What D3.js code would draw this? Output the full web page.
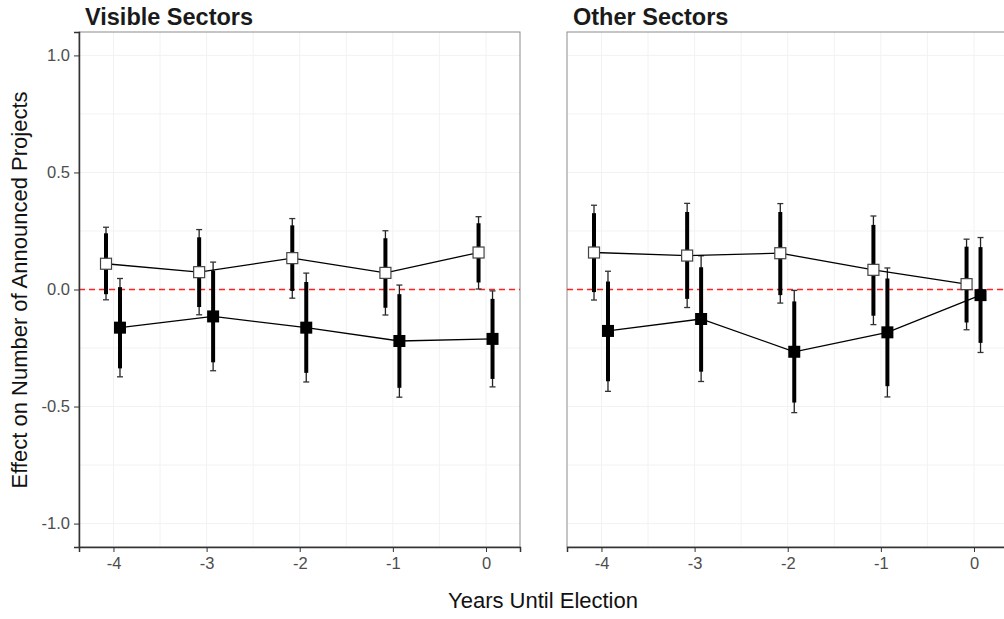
<!DOCTYPE html>
<html>
<head>
<meta charset="utf-8">
<script src="https://cdn.jsdelivr.net/npm/d3@7"></script>
<style>
  body { margin: 0; background: #fff; }
  text { font-family: "Liberation Sans", Arial, sans-serif; }
</style>
</head>
<body>
<div id="chart"></div>
<script>
/**
 * DATA
 * */
const years = [-4, -3, -2, -1, 0];
const yTicks = [-1.0, -0.5, 0.0, 0.5, 1.0];
const panelTitles = ["Visible Sectors", "Other Sectors"];

// Visible sectors, open squares
const visOpen = [0.11, 0.074, 0.134, 0.071, 0.158];
const visOpenLo90 = [-0.02, -0.075, -0.006, -0.078, 0.03];
const visOpenHi90 = [0.24, 0.223, 0.274, 0.219, 0.283];
const visOpenLo95 = [-0.044, -0.108, -0.037, -0.109, 0.002];
const visOpenHi95 = [0.266, 0.256, 0.303, 0.251, 0.311];

// Visible sectors, filled squares
const visFilled = [-0.163, -0.115, -0.163, -0.22, -0.211];
const visFilledLo90 = [-0.337, -0.311, -0.356, -0.42, -0.382];
const visFilledHi90 = [0.01, 0.081, 0.032, -0.02, -0.04];
const visFilledLo95 = [-0.373, -0.347, -0.395, -0.46, -0.416];
const visFilledHi95 = [0.047, 0.117, 0.07, 0.019, -0.006];

// Other sectors, open squares
const othOpen = [0.158, 0.145, 0.155, 0.084, 0.023];
const othOpenLo90 = [-0.011, -0.04, -0.024, -0.112, -0.141];
const othOpenHi90 = [0.326, 0.331, 0.331, 0.276, 0.183];
const othOpenLo95 = [-0.045, -0.077, -0.058, -0.15, -0.172];
const othOpenHi95 = [0.36, 0.368, 0.367, 0.314, 0.215];

// Other sectors, filled squares
const othFilled = [-0.177, -0.126, -0.266, -0.183, -0.024];
const othFilledLo90 = [-0.392, -0.351, -0.483, -0.413, -0.228];
const othFilledHi90 = [0.034, 0.095, -0.051, 0.047, 0.181];
const othFilledLo95 = [-0.435, -0.393, -0.526, -0.459, -0.269];
const othFilledHi95 = [0.078, 0.144, -0.004, 0.092, 0.222];

/**
 * CONSTANTS
 * */
const width = 1004,
  height = 619,
  panelTop = 32,
  panelBottom = 547,
  panelW = 441,
  panelLefts = [79, 567],
  dodge = { open: -0.08, filled: 0.07 };

// build series records from the arrays above
function series(est, lo90, hi90, lo95, hi95, kind) {
  return years.map((yr, i) => ({
    x: yr + dodge[kind], y: est[i],
    lo90: lo90[i], hi90: hi90[i], lo95: lo95[i], hi95: hi95[i], kind
  }));
}

const panels = [
  [
    series(visOpen, visOpenLo90, visOpenHi90, visOpenLo95, visOpenHi95, "open"),
    series(visFilled, visFilledLo90, visFilledHi90, visFilledLo95, visFilledHi95, "filled"),
  ],
  [
    series(othOpen, othOpenLo90, othOpenHi90, othOpenLo95, othOpenHi95, "open"),
    series(othFilled, othFilledLo90, othFilledHi90, othFilledLo95, othFilledHi95, "filled"),
  ],
];

// plain hyphen for negatives, like the original
const fmtX = d => String(d);
const fmtY = d => d.toFixed(1);

const svg = d3.select("#chart").append("svg")
  .attr("width", width)
  .attr("height", height);

const y = d3.scaleLinear().domain([-1.1, 1.1]).range([panelBottom, panelTop]);

panels.forEach((data, p) => {
  const left = panelLefts[p];
  const x = d3.scaleLinear().domain([-4.37, 0.365]).range([left, left + panelW]);
  const g = svg.append("g");

  // grid: minor then major, only inside the panel
  const minorX = [-3.5, -2.5, -1.5, -0.5];
  const minorY = [-0.75, -0.25, 0.25, 0.75];
  g.selectAll(".gx").data(minorX.concat(years)).join("line")
    .attr("x1", d => x(d)).attr("x2", d => x(d))
    .attr("y1", panelTop).attr("y2", panelBottom)
    .attr("stroke", "#f2f2f2").attr("stroke-width", 1);
  g.selectAll(".gy").data(minorY.concat(yTicks)).join("line")
    .attr("y1", d => y(d)).attr("y2", d => y(d))
    .attr("x1", left).attr("x2", left + panelW)
    .attr("stroke", "#f2f2f2").attr("stroke-width", 1);

  // panel border
  g.append("rect")
    .attr("x", left).attr("y", panelTop)
    .attr("width", panelW).attr("height", panelBottom - panelTop)
    .attr("fill", "none").attr("stroke", "#8c8c8c").attr("stroke-width", 1);

  // zero reference
  g.append("line")
    .attr("x1", left).attr("x2", left + panelW)
    .attr("y1", y(0)).attr("y2", y(0))
    .attr("stroke", "#ff2020").attr("stroke-width", 1.6)
    .attr("stroke-dasharray", "6,4");

  // x axis
  const xAxis = g.append("g")
    .attr("transform", `translate(0,${panelBottom})`)
    .call(d3.axisBottom(x).tickValues(years).tickFormat(fmtX).tickSizeOuter(0).tickSize(5).tickPadding(5));
  xAxis.select(".domain").attr("stroke", "#333").attr("stroke-width", 1.5);
  xAxis.selectAll(".tick line").attr("stroke", "#333");
  xAxis.selectAll(".tick text").attr("fill", "#4d4d4d").attr("font-size", 16.5)
    .attr("font-family", "Liberation Sans, Arial, sans-serif");

  if (p === 0) {
    const yAxis = g.append("g")
      .attr("transform", `translate(${left},0)`)
      .call(d3.axisLeft(y).tickValues(yTicks).tickFormat(fmtY).tickSizeOuter(0).tickSize(5).tickPadding(4));
    yAxis.select(".domain").attr("stroke", "#333").attr("stroke-width", 1.5);
    yAxis.selectAll(".tick line").attr("stroke", "#333");
    yAxis.selectAll(".tick text").attr("fill", "#4d4d4d").attr("font-size", 16.5)
      .attr("font-family", "Liberation Sans, Arial, sans-serif");
  }

  // panel title
  g.append("text")
    .attr("x", left + 6).attr("y", 25)
    .attr("font-size", 23.5).attr("font-weight", "bold").attr("fill", "#1a1a1a")
    .text(panelTitles[p]);

  const all = data[0].concat(data[1]);

  // thin 95% whiskers with caps
  g.selectAll(".w95").data(all).join("line")
    .attr("x1", d => x(d.x)).attr("x2", d => x(d.x))
    .attr("y1", d => y(d.lo95)).attr("y2", d => y(d.hi95))
    .attr("stroke", "#222").attr("stroke-width", 1.3);
  ["lo95", "hi95"].forEach(k => {
    g.selectAll(".cap-" + k).data(all).join("line")
      .attr("x1", d => x(d.x) - 3).attr("x2", d => x(d.x) + 3)
      .attr("y1", d => y(d[k])).attr("y2", d => y(d[k]))
      .attr("stroke", "#333").attr("stroke-width", 1.3);
  });

  // thick 90% bars
  g.selectAll(".w90").data(all).join("line")
    .attr("x1", d => x(d.x)).attr("x2", d => x(d.x))
    .attr("y1", d => y(d.lo90)).attr("y2", d => y(d.hi90))
    .attr("stroke", "#000").attr("stroke-width", 4);

  // connecting lines
  const line = d3.line().x(d => x(d.x)).y(d => y(d.y));
  data.forEach(s => {
    g.append("path").datum(s)
      .attr("d", line)
      .attr("fill", "none").attr("stroke", "#000").attr("stroke-width", 1.3);
  });

  // squares
  g.selectAll(".pt-open").data(data[0]).join("rect")
    .attr("x", d => x(d.x) - 5.5).attr("y", d => y(d.y) - 5.5)
    .attr("width", 11).attr("height", 11)
    .attr("fill", "#fff").attr("stroke", "#444").attr("stroke-width", 1.2);
  g.selectAll(".pt-filled").data(data[1]).join("rect")
    .attr("x", d => x(d.x) - 6).attr("y", d => y(d.y) - 6)
    .attr("width", 12).attr("height", 12)
    .attr("fill", "#000");
});

// axis titles
svg.append("text")
  .attr("x", 543).attr("y", 608)
  .attr("text-anchor", "middle").attr("font-size", 22).attr("fill", "#111")
  .text("Years Until Election");

svg.append("text")
  .attr("transform", "translate(27,290) rotate(-90)")
  .attr("text-anchor", "middle").attr("font-size", 22).attr("fill", "#111")
  .text("Effect on Number of Announced Projects");
</script>
</body>
</html>
